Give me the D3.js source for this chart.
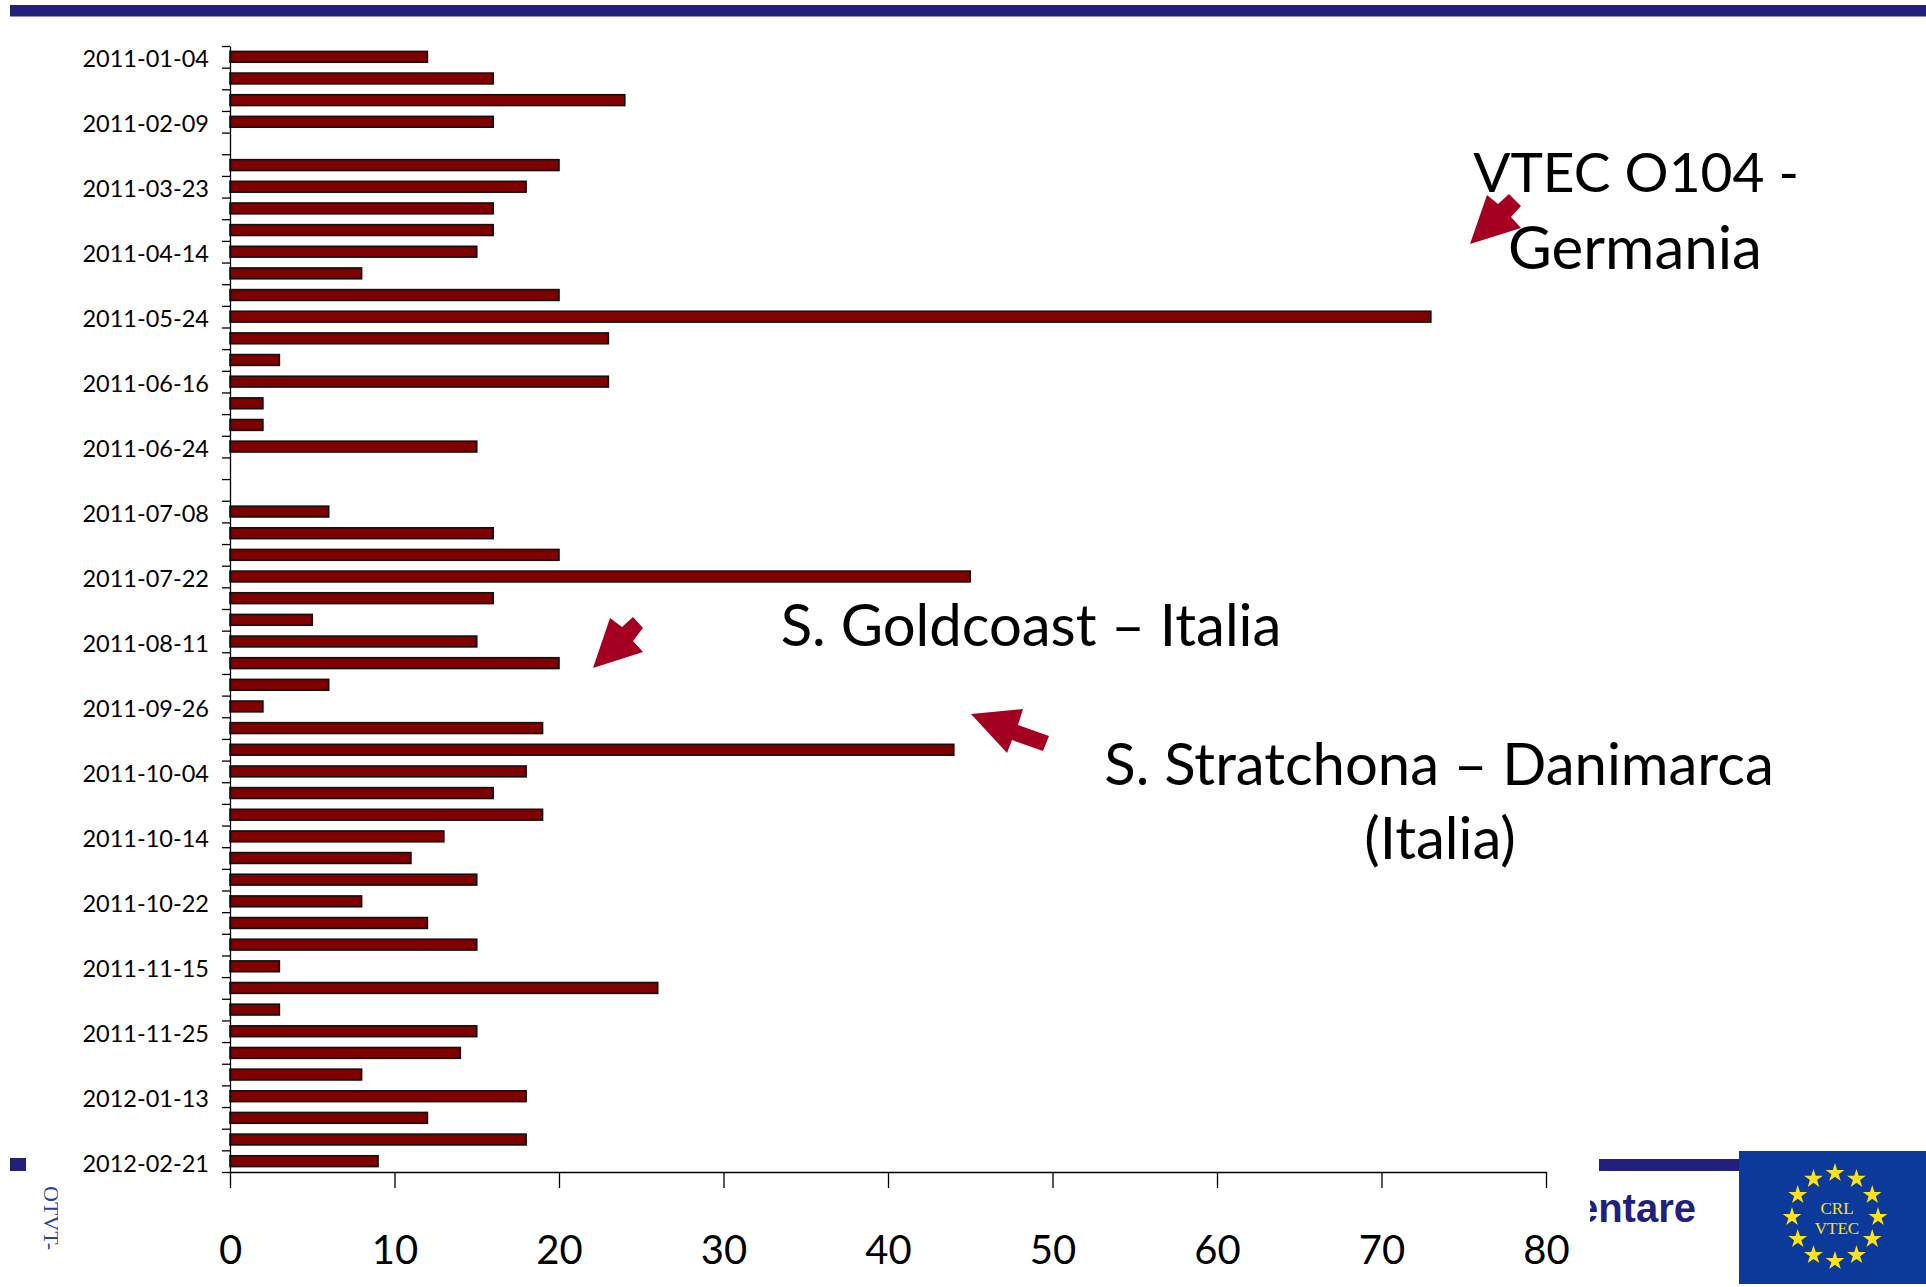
<!DOCTYPE html>
<html>
<head>
<meta charset="utf-8">
<script src="https://cdn.jsdelivr.net/npm/d3@7"></script>
<style>
  html, body { margin: 0; padding: 0; background: #fff; }
  svg { display: block; }
</style>
</head>
<body>
<div id="chart"></div>
<script>
// tick labels shown on the category axis (every third category)
var tickLabels = [
  "2011-01-04", "2011-02-09", "2011-03-23", "2011-04-14", "2011-05-24",
  "2011-06-16", "2011-06-24", "2011-07-08", "2011-07-22", "2011-08-11",
  "2011-09-26", "2011-10-04", "2011-10-14", "2011-10-22", "2011-11-15",
  "2011-11-25", "2012-01-13", "2012-02-21"
];

// one value per category, top to bottom
var values = [
  12, 16, 24, 16, 0, 20, 18, 16, 16, 15,
  8, 20, 73, 23, 3, 23, 2, 2, 15, 0,
  0, 6, 16, 20, 45, 16, 5, 15, 20, 6,
  2, 19, 44, 18, 16, 19, 13, 11, 15, 8,
  12, 15, 3, 26, 3, 15, 14, 8, 18, 12,
  18, 9
];

var xTicks = [0, 10, 20, 30, 40, 50, 60, 70, 80];

var W = 1926, H = 1287;
var plot = {left: 230, right: 1546, top: 46, bottom: 1172};
var navy = "#231f7c";

var svg = d3.select("#chart").append("svg")
    .attr("width", W)
    .attr("height", H);

// slide decoration: top rule
svg.append("rect")
    .attr("x", 10).attr("y", 5).attr("width", W - 10).attr("height", 11.5)
    .attr("fill", navy);

// footer bits peeking out behind the chart
svg.append("rect")
    .attr("x", 10).attr("y", 1158).attr("width", 16).attr("height", 13)
    .attr("fill", navy);
svg.append("rect")
    .attr("x", 1599).attr("y", 1159).attr("width", 140).attr("height", 12)
    .attr("fill", navy);

var defs = svg.append("defs");
defs.append("clipPath").attr("id", "clipFooter")
  .append("rect").attr("x", 1590).attr("y", 1180).attr("width", 160).attr("height", 60);
defs.append("clipPath").attr("id", "clipSide")
  .append("rect").attr("x", 30).attr("y", 1180).attr("width", 28).attr("height", 80);

svg.append("text")
    .attr("clip-path", "url(#clipFooter)")
    .attr("x", 1696).attr("y", 1222)
    .attr("text-anchor", "end")
    .attr("font-family", "Liberation Sans, Arial, sans-serif")
    .attr("font-weight", "bold")
    .attr("font-size", 40)
    .attr("fill", navy)
    .text("entare");

svg.append("g")
    .attr("clip-path", "url(#clipSide)")
  .append("text")
    .attr("transform", "translate(44,1186) rotate(90)")
    .attr("font-family", "Liberation Serif, serif")
    .attr("font-size", 22)
    .attr("fill", "#2a3f9e")
    .text("OTVT-");

// EU logo box
var logo = svg.append("g");
logo.append("rect")
    .attr("x", 1739).attr("y", 1151).attr("width", W - 1739).attr("height", 133)
    .attr("fill", "#0b3a9b");
var star = d3.symbol().type(d3.symbolStar).size(110);
logo.selectAll("path.star")
    .data(d3.range(12))
  .enter().append("path")
    .attr("class", "star")
    .attr("d", star)
    .attr("fill", "#ffe21a")
    .attr("transform", function(i) {
      var a = i / 12 * 2 * Math.PI;
      return "translate(" + (1835 + 43 * Math.sin(a)) + "," + (1217 - 44 * Math.cos(a)) + ")";
    });
logo.selectAll("text")
    .data(["CRL", "VTEC"])
  .enter().append("text")
    .attr("x", 1837)
    .attr("y", function(d, i) { return 1214 + i * 20; })
    .attr("text-anchor", "middle")
    .attr("font-family", "Liberation Serif, serif")
    .attr("font-size", 17)
    .attr("fill", "#ffe21a")
    .text(function(d) { return d; });

// scales
var x = d3.scaleLinear().domain([0, 80]).range([plot.left, plot.right]);
var y = d3.scaleBand()
    .domain(d3.range(values.length))
    .range([plot.top, plot.bottom])
    .paddingInner(0.5)
    .paddingOuter(0.25);
var yEdge = d3.scaleLinear().domain([0, values.length]).range([plot.top, plot.bottom]);

var g = svg.append("g");

// bars (empty categories get no bar)
var rows = values.map(function(v, i) { return {i: i, v: v}; })
    .filter(function(d) { return d.v > 0; });

g.selectAll("rect.bar")
    .data(rows)
  .enter().append("rect")
    .attr("class", "bar")
    .attr("x", x(0))
    .attr("y", function(d) { return y(d.i); })
    .attr("width", function(d) { return x(d.v) - x(0); })
    .attr("height", y.bandwidth())
    .attr("fill", "#800000")
    .attr("stroke", "#111")
    .attr("stroke-width", 1.6);

// y axis: tick marks at band edges
var yTickAxis = d3.axisLeft(yEdge)
    .tickValues(d3.range(0, values.length + 1))
    .tickFormat("")
    .tickSize(8)
    .tickSizeOuter(0);
g.append("g")
    .attr("transform", "translate(" + plot.left + ",0)")
    .call(yTickAxis);

// y axis: labels every third category
var yLabelAxis = d3.axisLeft(y)
    .tickValues(d3.range(0, values.length, 3))
    .tickFormat(function(i) { return tickLabels[i / 3]; })
    .tickSize(0)
    .tickPadding(21);
var gyl = g.append("g")
    .attr("transform", "translate(" + plot.left + ",0)")
    .call(yLabelAxis);
gyl.select(".domain").remove();
gyl.selectAll("text")
    .attr("font-family", "Lato, sans-serif")
    .attr("font-size", 23.5)
    .attr("fill", "#000")
    .attr("dy", "0.45em");

// x axis
var xAxis = d3.axisBottom(x)
    .tickValues(xTicks)
    .tickSize(16)
    .tickSizeOuter(0)
    .tickPadding(48);
var gx = g.append("g")
    .attr("transform", "translate(0," + plot.bottom + ")")
    .call(xAxis);
gx.selectAll("text")
    .attr("font-family", "Lato, sans-serif")
    .attr("font-size", 40)
    .attr("fill", "#000");

g.selectAll(".domain, .tick line")
    .attr("stroke", "#000")
    .attr("stroke-width", 1.3);

// annotation arrows
var arrowColor = "#a50021";
var arrows = [
  [[1470,244],[1487,195],[1498,204],[1509,194],[1521,206],[1511,217],[1521,228]],
  [[593,668],[610,618],[622,627],[633,617],[643,628],[633,641],[643,652]],
  [[971,714],[1023,709],[1018,725],[1049,736],[1043,751],[1012,740],[1007,753]]
];
svg.selectAll("path.arrow")
    .data(arrows)
  .enter().append("path")
    .attr("class", "arrow")
    .attr("d", function(d) { return d3.line()(d) + "Z"; })
    .attr("fill", arrowColor);

// annotation texts
var notes = [
  {t: "VTEC O104 -", x: 1636, y: 192, s: 55},
  {t: "Germania", x: 1635, y: 269, s: 60},
  {t: "S. Goldcoast \u2013 Italia", x: 1031, y: 646, s: 58},
  {t: "S. Stratchona \u2013 Danimarca", x: 1439, y: 785, s: 58},
  {t: "(Italia)", x: 1440, y: 859, s: 58}
];
svg.selectAll("text.note")
    .data(notes)
  .enter().append("text")
    .attr("class", "note")
    .attr("x", function(d) { return d.x; })
    .attr("y", function(d) { return d.y; })
    .attr("text-anchor", "middle")
    .attr("font-family", "Lato, sans-serif")
    .attr("font-size", function(d) { return d.s; })
    .attr("fill", "#000")
    .text(function(d) { return d.t; });
</script>
</body>
</html>
